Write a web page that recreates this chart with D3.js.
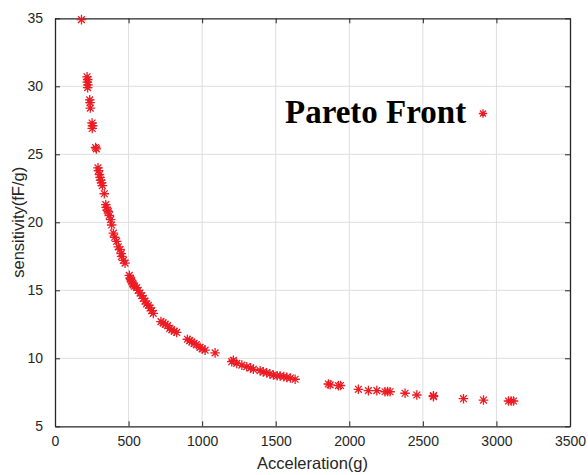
<!DOCTYPE html>
<html lang="en">
<head>
    <meta charset="utf-8">
    <title>Pareto Front</title>
    <style>
        body { margin: 0; background: #fff; }
        .axis text { font-family: "Liberation Sans", Arial, sans-serif; font-size: 14px; fill: #262626; }
        .axis path, .axis line { stroke: #262626; }
        .grid line { stroke: #dedede; stroke-width: 1; }
        .label { font-family: "Liberation Sans", Arial, sans-serif; font-size: 16.5px; fill: #262626; }
        .marker { fill: none; stroke: #ec1c24; stroke-width: 1.3; }
    </style>
</head>
<body>
    <div id="chart"></div>

    <script src="https://cdn.jsdelivr.net/npm/d3@7/dist/d3.min.js"></script>
    <script>
        // acceleration (g) and sensitivity (fF/g)
        const acceleration = [
            180, 218, 222, 220, 224, 222, 236, 238, 240, 252, 255, 253, 276, 281,
            292, 296, 302, 306, 310, 317, 322, 335, 345, 348, 355, 362, 369, 378,
            385, 397, 405, 419, 430, 442, 450, 453, 465, 476, 505, 510, 515, 521,
            528, 532, 540, 555, 565, 578, 590, 600, 612, 623, 635, 646, 657, 668,
            720, 735, 750, 765, 780, 793, 810, 827, 900, 915, 930, 945, 960, 986,
            1000, 1020, 1088, 1201, 1212, 1235, 1270, 1303, 1330, 1348, 1394, 1415,
            1439, 1460, 1484, 1510, 1530, 1555, 1575, 1600, 1632, 1858, 1870, 1926,
            1940, 2062, 2130, 2187, 2243, 2260, 2277, 2379, 2459, 2572, 2572, 2776,
            2912, 3082, 3100, 3116
        ];
        const sensitivity = [
            34.9, 30.7, 30.5, 30.3, 30.1, 29.9, 29.0, 28.8, 28.4, 27.3, 27.1, 26.9, 25.5, 25.4,
            24.0, 23.8, 23.5, 23.3, 23.1, 22.9, 22.7, 22.1, 21.3, 21.1, 20.9, 20.8, 20.5, 20.2,
            19.8, 19.2, 18.9, 18.6, 18.2, 18.0, 17.7, 17.5, 17.2, 17.0, 16.1, 15.9, 15.8, 15.7,
            15.5, 15.4, 15.3, 15.2, 15.0, 14.8, 14.6, 14.4, 14.2, 14.0, 13.9, 13.7, 13.5, 13.3,
            12.7, 12.6, 12.5, 12.4, 12.2, 12.1, 12.0, 11.9, 11.4, 11.3, 11.2, 11.1, 11.0, 10.8,
            10.7, 10.6, 10.4, 9.75, 9.85, 9.63, 9.5, 9.38, 9.3, 9.19, 9.09, 9.0,
            8.94, 8.85, 8.77, 8.72, 8.70, 8.65, 8.60, 8.55, 8.46, 8.11, 8.05, 7.99,
            8.0, 7.72, 7.62, 7.62, 7.54, 7.56, 7.54, 7.43, 7.30, 7.18, 7.25, 7.03,
            6.93, 6.86, 6.86, 6.86
        ];
        const x_ticks = [0, 500, 1000, 1500, 2000, 2500, 3000, 3500];
        const y_ticks = [5, 10, 15, 20, 25, 30, 35];
        const legend_label = 'Pareto Front';

        const width = 588, height = 475;
        const box = {left: 55, right: 570, top: 18.3, bottom: 426.3};

        const svg = d3.select('#chart')
            .append('svg')
                .attr('width', width)
                .attr('height', height);

        const x = d3.scaleLinear().domain([0, 3500]).range([box.left, box.right]);
        const y = d3.scaleLinear().domain([5, 35]).range([box.bottom, box.top]);
        const fmt = d3.format('d');

        // grid
        const grid = svg.append('g').attr('class', 'grid');
        grid.selectAll('line.gx')
            .data(x_ticks.slice(1, -1))
            .join('line')
                .attr('class', 'gx')
                .attr('x1', d => x(d)).attr('x2', d => x(d))
                .attr('y1', box.top).attr('y2', box.bottom);
        grid.selectAll('line.gy')
            .data(y_ticks.slice(1, -1))
            .join('line')
                .attr('class', 'gy')
                .attr('y1', d => y(d)).attr('y2', d => y(d))
                .attr('x1', box.left).attr('x2', box.right);

        // axes, ticks pointing inward on all four sides
        const tick_len = 5;
        svg.append('g')
            .attr('class', 'x axis')
            .attr('transform', `translate(0, ${box.bottom})`)
            .call(d3.axisBottom(x).tickValues(x_ticks).tickFormat(fmt).tickSizeInner(-tick_len).tickSizeOuter(0).tickPadding(10));
        svg.append('g')
            .attr('class', 'x axis')
            .attr('transform', `translate(0, ${box.top})`)
            .call(d3.axisTop(x).tickValues(x_ticks).tickSizeInner(-tick_len).tickSizeOuter(0).tickFormat(''));
        svg.append('g')
            .attr('class', 'y axis')
            .attr('transform', `translate(${box.left}, 0)`)
            .call(d3.axisLeft(y).tickValues(y_ticks).tickFormat(fmt).tickSizeInner(-tick_len).tickSizeOuter(0).tickPadding(12));
        svg.append('g')
            .attr('class', 'y axis')
            .attr('transform', `translate(${box.right}, 0)`)
            .call(d3.axisRight(y).tickValues(y_ticks).tickSizeInner(-tick_len).tickSizeOuter(0).tickFormat(''));
        svg.selectAll('.axis path').attr('stroke-width', 1.3);

        // axis labels
        svg.append('text')
            .attr('class', 'label')
            .attr('text-anchor', 'middle')
            .attr('x', (box.left + box.right) / 2)
            .attr('y', 469)
            .text('Acceleration(g)');
        svg.append('text')
            .attr('class', 'label')
            .attr('text-anchor', 'middle')
            .attr('transform', `translate(24, ${(box.top + box.bottom) / 2}) rotate(-90)`)
            .text('sensitivity(fF/g)');

        // asterisk marker (+ and x overlaid)
        const asterisk = r => {
            const d = r * Math.SQRT1_2;
            return `M${-r},0L${r},0M0,${-r}L0,${r}M${-d},${-d}L${d},${d}M${-d},${d}L${d},${-d}`;
        };

        const points = acceleration.map((a, i) => ({a, s: sensitivity[i]}));
        svg.append('g')
            .selectAll('path')
            .data(points)
            .join('path')
                .attr('class', 'marker')
                .attr('transform', d => `translate(${x(d.a)}, ${y(d.s)})`)
                .attr('d', asterisk(4.8));

        // legend, no box
        svg.append('text')
            .attr('x', 285)
            .attr('y', 122.7)
            .attr('font-family', '"Liberation Serif", "Times New Roman", serif')
            .attr('font-weight', 'bold')
            .attr('font-size', 33)
            .attr('fill', '#000')
            .text(legend_label);
        svg.append('path')
            .attr('class', 'marker')
            .attr('transform', 'translate(483, 113.5)')
            .attr('d', asterisk(4.2));
    </script>
</body>
</html>
